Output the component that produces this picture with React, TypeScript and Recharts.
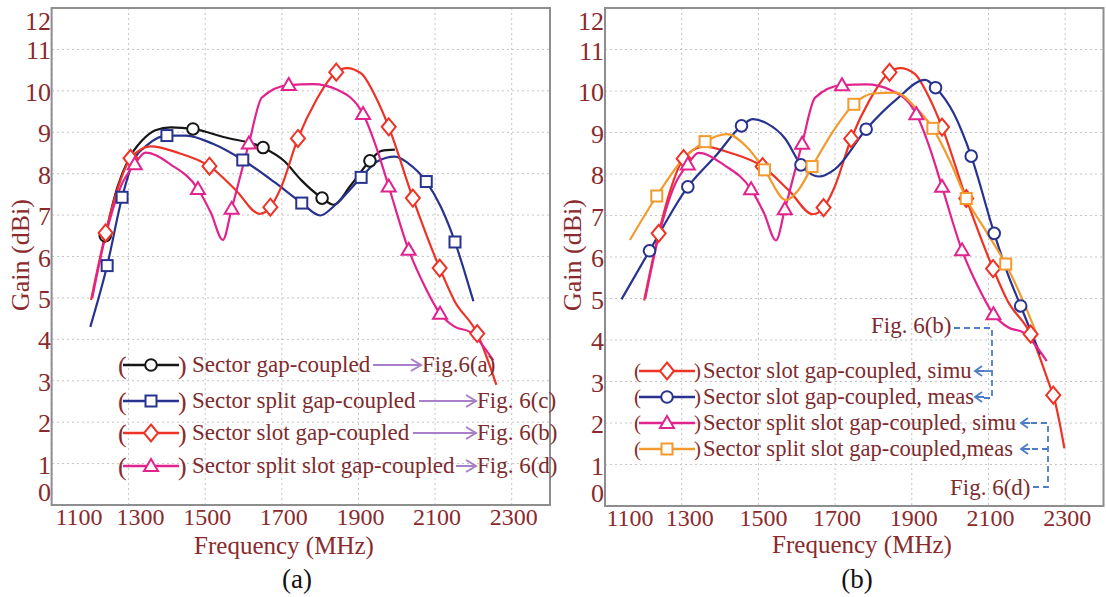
import React from "react";
import { LineChart, Line, XAxis, YAxis, CartesianGrid } from "recharts";

const FONT = '"Liberation Serif", "Times New Roman", serif';
const TICK_RED = "#8a2a2c";
const TEXT_RED = "#7d2b2e";

const freqTicks = [1100, 1300, 1500, 1700, 1900, 2100, 2300];
const gainTicks = [0, 1, 2, 3, 4, 5, 6, 7, 8, 9, 10, 11, 12];

type P = [number, number];

// [frequency MHz, gain dBi]
// Sector gap-coupled (Fig.6(a))
const gapCoupled: P[] = [
  [1239, 6.5], [1270, 7.65], [1300, 8.35], [1335, 8.8], [1370, 9.05], [1410, 9.12],
  [1468, 9.08], [1550, 8.88], [1651, 8.63], [1707, 8.3], [1750, 7.85], [1805, 7.41],
  [1835, 7.25], [1880, 7.72], [1930, 8.31], [1960, 8.55], [1995, 8.58],
];
const gapCoupledMarks = [1239, 1468, 1651, 1805, 1930];

// Sector split gap-coupled (Fig. 6(c))
const splitGap: P[] = [
  [1200, 4.3], [1244, 5.78], [1283, 7.43], [1310, 8.25], [1350, 8.7], [1400, 8.92],
  [1450, 8.92], [1520, 8.72], [1598, 8.33], [1680, 7.8], [1752, 7.29], [1800, 6.99],
  [1840, 7.25], [1907, 7.91], [1950, 8.3], [1995, 8.41], [2030, 8.25], [2077, 7.81],
  [2115, 7.2], [2152, 6.35], [2178, 5.6], [2200, 4.92],
];
const splitGapMarks = [1244, 1283, 1400, 1598, 1752, 1907, 2077, 2152];

// Sector slot gap-coupled, simulated (Fig. 6(b))
const slotSimu: P[] = [
  [1202, 4.95], [1240, 6.57], [1270, 7.6], [1305, 8.37], [1358, 8.66], [1430, 8.5],
  [1511, 8.18], [1580, 7.6], [1642, 7.03], [1670, 7.19], [1698, 7.67], [1742, 8.85],
  [1790, 9.78], [1842, 10.45], [1870, 10.55], [1907, 10.42], [1945, 9.85], [1979, 9.13],
  [2042, 7.41], [2112, 5.72], [2150, 4.94], [2210, 4.14], [2260, 2.9], [2269, 2.67],
  [2298, 1.39],
];
const slotSimuMarksA = [1240, 1305, 1511, 1670, 1742, 1842, 1979, 2042, 2112, 2210];
const slotSimuMarksB = [1240, 1305, 1511, 1670, 1742, 1842, 1979, 2042, 2112, 2210, 2269];

// Sector split slot gap-coupled, simulated (Fig. 6(d))
const splitSlotSimu: P[] = [
  [1205, 5.0], [1240, 6.5], [1280, 7.7], [1316, 8.23], [1344, 8.51], [1410, 8.22],
  [1481, 7.63], [1515, 7.05], [1546, 6.4], [1569, 7.15], [1614, 8.73], [1648, 9.84],
  [1718, 10.14], [1781, 10.16], [1846, 10.02], [1912, 9.44], [1948, 8.6], [1979, 7.69],
  [2031, 6.16], [2072, 5.3], [2113, 4.62], [2152, 4.3], [2191, 4.18], [2252, 3.49],
];
const splitSlotSimuMarks = [1316, 1481, 1569, 1614, 1718, 1912, 1979, 2031, 2113];

// Sector slot gap-coupled, measured
const slotMeas: P[] = [
  [1143, 4.98], [1216, 6.15], [1316, 7.69], [1390, 8.45], [1456, 9.16], [1486, 9.32],
  [1522, 9.22], [1570, 8.85], [1611, 8.22], [1658, 7.94], [1700, 8.12], [1781, 9.08],
  [1860, 9.8], [1935, 10.27], [1962, 10.08], [2010, 9.45], [2055, 8.43], [2115, 6.57],
  [2150, 5.6], [2184, 4.82], [2235, 3.65],
];
const slotMeasMarks = [1216, 1316, 1456, 1611, 1781, 1962, 2055, 2115, 2184];

// Sector split slot gap-coupled, measured
const splitSlotMeas: P[] = [
  [1165, 6.41], [1235, 7.47], [1300, 8.32], [1361, 8.78], [1418, 8.96], [1470, 8.65],
  [1516, 8.1], [1572, 7.37], [1605, 7.62], [1640, 8.18], [1700, 9.1], [1749, 9.68],
  [1799, 9.94], [1858, 9.96], [1910, 9.6], [1955, 9.1], [2000, 8.3], [2042, 7.41],
  [2095, 6.6], [2145, 5.83], [2190, 4.95], [2225, 4.16],
];
const splitSlotMeasMarks = [1235, 1361, 1516, 1640, 1749, 1955, 2042, 2145];

const BLACK = "#161616";
const NAVY = "#27338f";
const RED = "#ee3326";
const PINK = "#e3238d";
const ORANGE = "#f29a2e";

type Kind = "circle" | "square" | "diamond" | "triangle";

function Marker({ kind, x, y, color }: { kind: Kind; x: number; y: number; color: string }) {
  const common = { fill: "#fff", stroke: color, strokeWidth: 2 };
  if (kind === "circle") return <circle cx={x} cy={y} r={5.8} {...common} />;
  if (kind === "square") return <rect x={x - 5.5} y={y - 5.5} width={11} height={11} {...common} />;
  if (kind === "diamond")
    return <path d={`M${x},${y - 8.5}L${x + 7},${y}L${x},${y + 8.5}L${x - 7},${y}Z`} {...common} />;
  return <path d={`M${x},${y - 7}L${x + 7},${y + 5}L${x - 7},${y + 5}Z`} {...common} />;
}

type Series = { name: string; data: P[]; marks: number[]; color: string; kind: Kind; maxF?: number };

const toPts = (a: P[], maxF = 9999) => a.filter(([f]) => f <= maxF).map(([f, g]) => ({ f, g }));

function Panel({
  left, width, plotLeft, plotRight, plotBottom, series, xShift,
}: {
  left: number; width: number; plotLeft: number; plotRight: number; plotBottom: number;
  series: Series[]; xShift: Record<number, number>;
}) {
  return (
    <div style={{ position: "absolute", left, top: 0 }}>
      <LineChart
        width={width}
        height={597}
        margin={{ top: 8, right: width - plotRight, left: 0, bottom: 597 - plotBottom - 40 }}
      >
        <CartesianGrid stroke="#c4c4c4" strokeDasharray="2 3" />
        <XAxis
          type="number"
          dataKey="f"
          domain={[1100, 2400]}
          ticks={freqTicks}
          height={40}
          axisLine={false}
          tickLine={false}
          tick={(p: any) => (
            <text
              key={`x-${p.payload.value}`}
              x={p.x + (xShift[p.payload.value] ?? 2)}
              y={plotBottom + 20}
              textAnchor="middle"
              fontFamily={FONT}
              fontSize={24}
              fill={TICK_RED}
            >
              {p.payload.value}
            </text>
          )}
        />
        <YAxis
          type="number"
          domain={[0, 12]}
          ticks={gainTicks}
          width={plotLeft}
          axisLine={false}
          tickLine={false}
          tick={(p: any) => {
            const v = p.payload.value;
            const dy = v === 12 ? 21 : v === 0 ? -4 : 10;
            return (
              <text
                key={`y-${v}`}
                x={plotLeft - 1}
                y={p.y + dy}
                textAnchor="end"
                fontFamily={FONT}
                fontSize={26}
                fill={TICK_RED}
              >
                {v}
              </text>
            );
          }}
        />
        {series.map((s) => (
          <Line
            key={s.name}
            data={toPts(s.data, s.maxF)}
            dataKey="g"
            type="monotone"
            stroke={s.color}
            strokeWidth={2.2}
            activeDot={false}
            isAnimationActive={false}
            dot={(p: any) =>
              s.marks.includes(p.payload.f) ? (
                <Marker key={`${s.name}-${p.index}`} kind={s.kind} x={p.cx} y={p.cy} color={s.color} />
              ) : (
                <g key={`${s.name}-${p.index}`} />
              )
            }
          />
        ))}
      </LineChart>
    </div>
  );
}

const seriesA: Series[] = [
  { name: "gap", data: gapCoupled, marks: gapCoupledMarks, color: BLACK, kind: "circle" },
  { name: "splitgap", data: splitGap, marks: splitGapMarks, color: NAVY, kind: "square" },
  { name: "slot", data: slotSimu, marks: slotSimuMarksA, color: RED, kind: "diamond", maxF: 2260 },
  { name: "splitslot", data: splitSlotSimu, marks: splitSlotSimuMarks, color: PINK, kind: "triangle" },
];

const seriesB: Series[] = [
  { name: "slotsimu", data: slotSimu, marks: slotSimuMarksB, color: RED, kind: "diamond" },
  { name: "slotmeas", data: slotMeas, marks: slotMeasMarks, color: NAVY, kind: "circle" },
  { name: "splitsimu", data: splitSlotSimu, marks: splitSlotSimuMarks, color: PINK, kind: "triangle" },
  { name: "splitmeas", data: splitSlotMeas, marks: splitSlotMeasMarks, color: ORANGE, kind: "square" },
];

const legendA = [
  { text: "Sector gap-coupled", fig: "Fig.6(a)", color: BLACK, kind: "circle" as Kind, a1: 373, a2: 421 },
  { text: "Sector split gap-coupled", fig: "Fig. 6(c)", color: NAVY, kind: "square" as Kind, a1: 419, a2: 476 },
  { text: "Sector slot gap-coupled", fig: "Fig. 6(b)", color: RED, kind: "diamond" as Kind, a1: 413, a2: 476 },
  { text: "Sector split slot gap-coupled", fig: "Fig. 6(d)", color: PINK, kind: "triangle" as Kind, a1: 456, a2: 476 },
];
const legendARows = [365, 401, 433, 466];

const legendB = [
  { text: "Sector slot gap-coupled, simu", color: RED, kind: "diamond" as Kind },
  { text: "Sector slot gap-coupled, meas", color: NAVY, kind: "circle" as Kind },
  { text: "Sector split slot gap-coupled, simu", color: PINK, kind: "triangle" as Kind },
  { text: "Sector split slot gap-coupled,meas", color: ORANGE, kind: "square" as Kind },
];
const legendBRows = [371, 397, 423, 449];

function Swatch({ x, y, color, kind, size }: { x: number; y: number; color: string; kind: Kind; size: number }) {
  return (
    <g>
      <text x={x - 5} y={y + size / 3} fontFamily={FONT} fontSize={size} fill={TICK_RED}>(</text>
      <line x1={x} y1={y} x2={x + 56} y2={y} stroke={color} strokeWidth={2.6} />
      <Marker kind={kind} x={x + 28} y={y} color={color} />
      <text x={x + 55} y={y + size / 3} fontFamily={FONT} fontSize={size} fill={TICK_RED}>)</text>
    </g>
  );
}

const PURPLE = "#a77fcb";
const BLUE_DASH = "#4f7cc6";

function Overlay() {
  return (
    <svg
      width={1106}
      height={597}
      style={{ position: "absolute", left: 0, top: 0, pointerEvents: "none" }}
    >
      <rect x={51.6} y={8} width={498.4} height={497} fill="none" stroke="#8e8e8e" strokeWidth={2} />
      <rect x={605} y={8} width={498.5} height={498} fill="none" stroke="#8e8e8e" strokeWidth={2} />

      <text x={29} y={255} transform="rotate(-90 29 255)" textAnchor="middle" fontFamily={FONT} fontSize={26} fill={TICK_RED}>
        Gain (dBi)
      </text>
      <text x={581} y={255} transform="rotate(-90 581 255)" textAnchor="middle" fontFamily={FONT} fontSize={26} fill={TICK_RED}>
        Gain (dBi)
      </text>
      <text x={284} y={554} textAnchor="middle" fontFamily={FONT} fontSize={25} fill={TICK_RED}>
        Frequency (MHz)
      </text>
      <text x={862} y={553} textAnchor="middle" fontFamily={FONT} fontSize={25} fill={TICK_RED}>
        Frequency (MHz)
      </text>
      <text x={297} y={588} textAnchor="middle" fontFamily={FONT} fontSize={27} fill="#111">(a)</text>
      <text x={857} y={588} textAnchor="middle" fontFamily={FONT} fontSize={27} fill="#111">(b)</text>

      {legendA.map((l, i) => {
        const y = legendARows[i];
        return (
          <g key={l.text}>
            <Swatch x={123} y={y} color={l.color} kind={l.kind} size={26} />
            <text x={192} y={y + 7} fontFamily={FONT} fontSize={23} fill={TEXT_RED}>{l.text}</text>
            <path
              d={`M${l.a1},${y} H${l.a2} M${l.a2 - 10},${y - 6} L${l.a2},${y} L${l.a2 - 10},${y + 6}`}
              fill="none"
              stroke={PURPLE}
              strokeWidth={2}
            />
            <text x={l.a2 + 1} y={y + 7} fontFamily={FONT} fontSize={23} fill={TEXT_RED}>{l.fig}</text>
          </g>
        );
      })}

      {legendB.map((l, i) => {
        const y = legendBRows[i];
        return (
          <g key={l.text}>
            <Swatch x={639} y={y} color={l.color} kind={l.kind} size={21} />
            <text x={703} y={y + 7} fontFamily={FONT} fontSize={22.6} fill={TEXT_RED}>{l.text}</text>
          </g>
        );
      })}

      <g fill="none" stroke={BLUE_DASH} strokeWidth={1.8}>
        <path d="M954,328 H992 V398 H984" strokeDasharray="6 4" />
        <path d="M984,371 H992" />
        <path d="M984,371 L975,371 M982,366 L975,371 L982,376" />
        <path d="M984,397 L975,397 M982,392 L975,397 L982,402" />
        <path d="M1033,487 H1048 V423 H1030" strokeDasharray="6 4" />
        <path d="M1048,449 H1030" strokeDasharray="6 4" />
        <path d="M1030,423 L1021,423 M1028,418 L1021,423 L1028,428" />
        <path d="M1030,449 L1021,449 M1028,444 L1021,449 L1028,454" />
      </g>
      <text x={871} y={333} fontFamily={FONT} fontSize={23} fill={TEXT_RED}>Fig. 6(b)</text>
      <text x={950} y={495} fontFamily={FONT} fontSize={23} fill={TEXT_RED}>Fig. 6(d)</text>
    </svg>
  );
}

export default function App() {
  return (
    <div style={{ position: "absolute", left: 0, top: 0, width: 1106, height: 597, background: "#fff" }}>
      <Panel
        left={0}
        width={560}
        plotLeft={52}
        plotRight={550}
        plotBottom={505}
        series={seriesA}
        xShift={{ 1100: 27, 1300: 12 }}
      />
      <Panel
        left={560}
        width={546}
        plotLeft={45}
        plotRight={543.5}
        plotBottom={506}
        series={seriesB}
        xShift={{ 1100: 25, 1300: 8, 1500: 5 }}
      />
      <Overlay />
    </div>
  );
}
